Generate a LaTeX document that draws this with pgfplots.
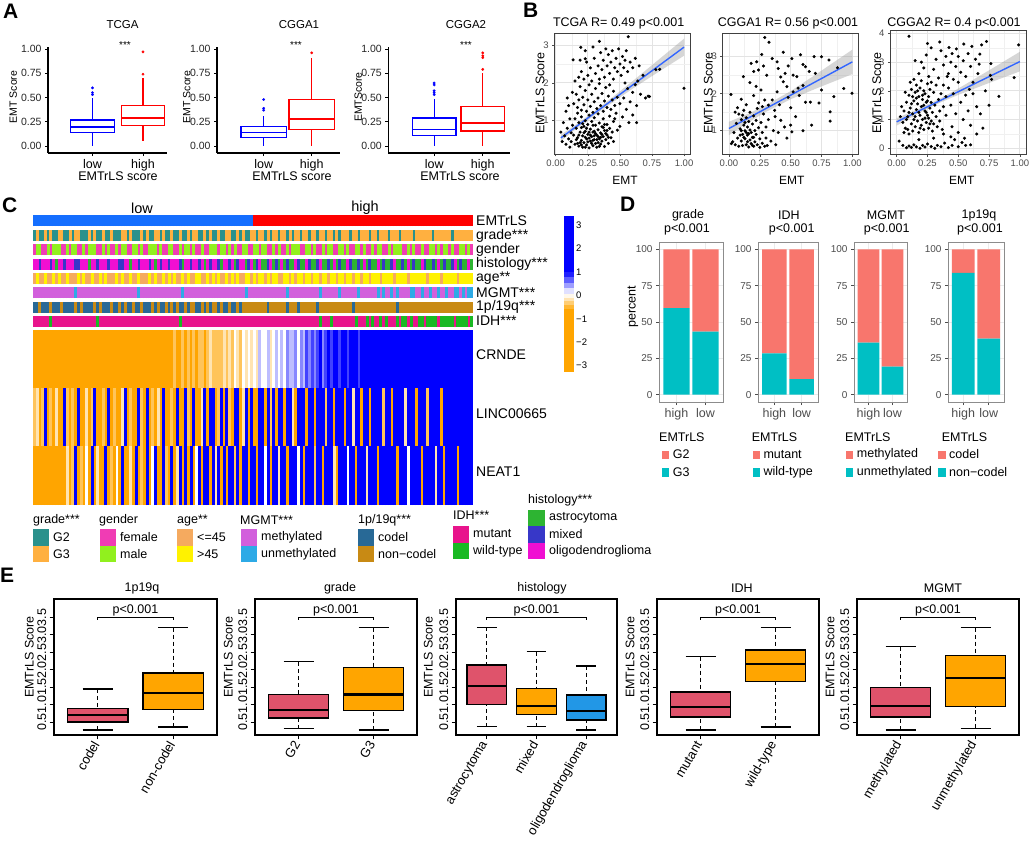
\documentclass[border=0pt]{standalone}
\usepackage{pgfplots}
\pgfplotsset{compat=1.18}
\usepackage{pgfplotstable}
\usepgfplotslibrary{statistics}
\usepackage{fontspec}
\setmainfont{Liberation Sans}

\newcommand{\fs}[1]{\fontsize{#1bp}{#1bp}\selectfont}

\definecolor{aBlue}{RGB}{0,0,255}
\definecolor{aRed}{RGB}{255,0,0}
\definecolor{bLine}{RGB}{51,102,255}
\definecolor{tickgray}{RGB}{77,77,77}
\definecolor{dSalmon}{RGB}{248,118,109}
\definecolor{dTeal}{RGB}{0,191,196}
\definecolor{eRed}{RGB}{223,83,107}
\definecolor{eOrange}{RGB}{255,165,0}
\definecolor{eBlue}{RGB}{34,151,230}
\definecolor{hOrange}{RGB}{255,165,0}
\definecolor{hLightOr}{RGB}{255,196,90}
\definecolor{hPale}{RGB}{255,228,178}
\definecolor{hLightBl}{RGB}{189,189,255}
\definecolor{hMidBl}{RGB}{135,135,255}
\definecolor{hDeepBl}{RGB}{66,66,255}
\definecolor{hBlue}{RGB}{0,0,255}
\definecolor{cG2}{RGB}{42,145,140}
\definecolor{cG3}{RGB}{255,176,64}
\definecolor{cFemale}{RGB}{240,60,180}
\definecolor{cMale}{RGB}{145,240,30}
\definecolor{cAstro}{RGB}{45,180,50}
\definecolor{cMixed}{RGB}{55,55,200}
\definecolor{cOligo}{RGB}{240,15,210}
\definecolor{cYoung}{RGB}{245,170,95}
\definecolor{cOld}{RGB}{255,242,0}
\definecolor{cMeth}{RGB}{210,95,220}
\definecolor{cUnmeth}{RGB}{45,170,230}
\definecolor{cCodel}{RGB}{40,105,150}
\definecolor{cNoncodel}{RGB}{200,138,20}
\definecolor{cMutant}{RGB}{232,20,140}
\definecolor{cWild}{RGB}{25,185,35}
\definecolor{cLow}{RGB}{20,110,255}
\definecolor{cHigh}{RGB}{255,0,0}

% rows: EMTrLS, grade, gender, histology, age, MGMT, 1p19q, IDH, CRNDE, LINC00665, NEAT1
\pgfplotstableread[header=false]{
0 0 0 0 0 0 0 0 0 0 0 0 0 0 0 0 0 0 0 0 0 0 0 0 0 0 0 0 0 0 0 0 0 0 0 0 0 0 0 0 0 0 0 0 0 0 0 0 0 0 0 0 0 0 0 0 0 0 0 0 0 0 0 0 0 0 0 0 0 0 0 0 0 0 0 0 0 0 0 0 1 1 1 1 1 1 1 1 1 1 1 1 1 1 1 1 1 1 1 1 1 1 1 1 1 1 1 1 1 1 1 1 1 1 1 1 1 1 1 1 1 1 1 1 1 1 1 1 1 1 1 1 1 1 1 1 1 1 1 1 1 1 1 1 1 1 1 1 1 1 1 1 1 1 1 1 1 1 1 1
0 1 0 0 1 0 1 0 0 1 1 0 0 1 0 1 1 0 0 0 1 0 1 0 0 1 0 0 1 0 0 0 1 1 0 1 0 0 0 1 0 1 0 0 1 1 0 1 0 0 1 0 0 1 0 0 1 0 1 1 0 0 1 0 1 0 0 1 0 0 1 1 0 0 1 0 1 0 0 1 1 0 1 1 0 1 0 1 1 0 1 1 0 1 0 1 1 0 1 1 0 1 1 0 1 1 0 1 1 0 1 0 1 1 1 0 1 1 0 1 1 1 0 1 1 0 1 1 1 0 1 1 1 0 1 1 1 1 0 1 1 1 1 1 1 0 1 1 1 1 1 1 0 1 1 1 1 1 1 1
0 1 1 0 0 1 0 1 1 1 0 0 1 0 1 1 0 0 1 0 1 1 1 0 0 1 0 1 0 0 1 0 1 1 0 0 1 1 0 1 0 0 1 1 1 0 1 0 0 1 1 0 0 1 0 1 1 0 1 0 0 1 0 0 1 1 1 0 1 1 0 1 0 1 0 0 1 1 0 0 1 1 0 1 1 0 0 1 0 1 0 0 1 0 1 1 1 0 0 1 1 0 1 0 0 1 0 1 1 0 0 1 1 0 1 0 0 1 1 0 1 0 0 1 0 1 1 0 0 1 0 1 1 1 0 0 1 0 1 0 0 1 0 0 1 1 0 1 0 1 1 0 1 0 0 1 1 0 1 0
2 2 1 2 2 2 1 2 0 2 2 1 2 2 2 1 1 2 2 2 0 2 2 1 2 2 2 1 2 2 2 1 1 2 2 0 2 2 1 2 2 2 1 2 0 2 1 2 2 1 2 2 2 1 0 2 2 1 2 2 1 2 0 2 1 2 2 1 0 2 2 1 2 0 1 2 2 0 1 2 0 1 2 0 0 1 2 0 1 0 2 0 1 0 0 2 1 0 0 2 1 0 0 1 2 0 0 1 0 2 0 1 0 0 2 1 0 0 1 0 2 0 1 0 0 2 0 1 0 0 1 2 0 0 1 0 2 0 1 0 0 2 1 0 0 1 0 2 0 1 0 0 1 2 0 1 0 0 2 0
0 1 0 0 1 0 0 1 0 1 0 0 1 0 0 0 1 0 1 0 0 1 0 0 1 0 1 0 0 0 1 0 1 0 0 1 0 0 1 0 0 0 1 0 1 0 0 1 0 1 0 1 0 0 1 0 1 0 0 1 1 0 0 1 0 1 0 1 0 0 1 0 1 0 1 0 0 1 1 0 1 0 1 1 0 1 0 1 1 0 0 1 1 0 1 0 1 1 0 1 1 0 1 1 0 1 1 0 1 1 0 1 1 0 1 1 0 1 1 0 1 1 0 1 1 1 0 1 1 1 1 0 1 1 1 1 0 1 1 1 1 1 1 0 1 1 1 1 0 1 1 1 1 1 0 1 1 1 1 1
0 0 0 0 0 0 0 0 0 0 0 0 0 0 0 1 0 0 0 0 0 0 0 0 0 0 0 0 0 0 0 0 0 0 0 0 0 0 1 0 0 0 0 0 0 0 0 0 0 0 0 0 0 0 1 0 0 0 0 0 0 0 0 0 0 0 0 0 0 0 0 0 0 0 0 0 0 1 0 0 0 0 0 0 0 0 0 0 0 0 0 0 1 0 0 0 0 0 0 0 0 0 0 0 1 0 0 0 0 0 0 1 0 0 0 0 0 0 1 0 0 0 0 0 0 1 0 1 0 0 1 0 1 0 0 0 0 1 1 0 0 1 0 0 1 0 0 1 0 0 1 0 0 1 1 0 1 0 1 1
0 0 1 0 0 0 1 0 0 0 1 0 0 0 0 1 0 1 0 0 0 0 1 0 1 0 0 0 1 0 0 1 0 1 0 0 1 0 0 1 0 0 0 1 0 1 0 0 1 0 1 0 1 0 0 1 0 1 1 0 0 1 0 1 0 1 1 0 1 0 0 1 0 0 1 0 1 1 1 1 1 1 1 1 1 0 1 1 1 1 1 1 0 1 1 1 0 1 1 1 1 1 1 0 1 1 1 1 1 1 1 1 1 1 1 1 0 1 1 1 1 1 1 1 1 1 1 1 1 1 1 1 0 1 1 1 1 1 1 1 1 1 1 1 1 1 1 1 1 1 1 1 1 1 1 1 1 1 1 1
0 0 0 0 0 0 1 0 0 0 0 0 0 0 0 0 0 0 0 0 0 0 0 1 0 0 0 0 0 0 0 0 0 0 0 0 0 0 0 0 0 0 0 0 0 0 0 0 0 0 0 0 0 1 0 0 0 0 0 0 0 0 0 0 0 0 0 0 0 0 0 0 0 0 0 0 0 0 0 0 0 0 0 0 0 0 0 0 0 0 0 0 0 0 0 0 0 0 0 0 0 0 0 0 1 0 0 0 1 0 0 0 0 0 0 0 0 1 0 0 0 1 0 1 0 0 1 0 1 0 0 0 1 0 1 1 0 1 0 0 1 1 0 1 1 1 1 0 1 1 1 1 1 0 1 1 1 1 0 1
0 0 0 0 0 0 0 0 0 0 0 0 0 0 0 0 0 0 0 0 0 0 0 0 0 0 0 0 0 0 0 0 0 0 0 0 0 0 0 0 0 0 0 0 0 0 0 0 0 0 0 1 0 0 1 0 2 0 1 0 1 2 0 1 3 1 2 2 1 3 2 3 2 4 3 2 4 3 4 3 4 3 5 4 4 5 3 4 5 4 5 4 6 5 5 6 4 6 5 7 6 7 6 7 8 6 7 8 7 8 8 7 8 8 7 8 8 8 7 8 8 8 8 8 8 8 8 8 8 8 8 8 8 8 8 8 8 8 8 8 8 8 8 8 8 8 8 8 8 8 8 8 8 8 8 8 8 8 8 8
2 3 0 1 8 0 2 0 3 0 0 8 1 0 2 0 7 0 0 3 0 2 8 0 0 1 0 8 0 2 0 0 3 8 0 1 0 0 7 2 0 8 0 1 0 3 0 8 0 0 2 0 8 0 0 7 1 0 8 0 0 3 8 0 7 8 0 2 8 0 8 1 0 7 8 0 3 8 0 8 0 0 8 7 0 8 2 8 0 8 8 0 8 8 3 0 8 7 8 0 8 8 0 8 8 8 2 8 8 0 8 8 8 0 8 8 3 8 8 0 8 8 0 8 8 8 8 2 8 8 0 8 8 8 8 3 8 8 8 0 8 8 8 2 8 8 8 8 0 8 8 8 8 8 8 8 8 8 8 8
0 0 0 0 0 0 0 0 0 0 0 0 3 0 1 8 0 2 0 4 0 8 0 3 0 0 7 0 2 0 4 0 8 0 0 3 0 8 0 2 0 7 0 4 8 0 0 8 2 0 8 0 3 8 0 7 0 8 0 4 8 0 8 7 0 8 3 8 0 8 0 8 8 2 8 0 8 7 0 8 8 0 8 8 4 8 0 8 8 3 8 8 0 8 7 8 4 8 0 8 8 8 2 8 8 0 8 8 8 3 0 8 8 8 4 8 8 0 8 8 8 3 8 8 8 0 8 8 8 8 8 8 0 8 8 8 4 8 8 8 8 0 8 8 8 8 3 8 8 0 8 8 8 8 0 8 8 8 8 8
}\rawC
\pgfplotstabletranspose{\heatC}{\rawC}

% one class of one track, drawn as a single comb path
% #1 table column, #2 lower bound, #3 upper bound, #4 colour
\newcommand{\cls}[4]{%
  \addplot[ycomb, draw=#4, line width=2.9bp, no marks]
    table[x expr=\coordindex, y expr={(\thisrowno{#1}>#2 && \thisrowno{#1}<#3) ? 1 : 0}] {\heatC};}

\pgfplotsset{
  every axis/.append style={/pgf/number format/assume math mode=true, enlargelimits=false},
  trkax/.style={anchor=north west, scale only axis, width=440bp,
    xmin=-0.5, xmax=159.5, ymin=0, ymax=1, hide axis, clip=false},
  panelA/.style={
    scale only axis, anchor=north west, height=106bp, ymin=-0.07, ymax=1.02,
    axis x line*=bottom, axis y line*=left,
    axis line style={-, black, line width=1.1bp},
    xtick={1,2}, xticklabels={low,high},
    ytick={0,0.25,0.5,0.75,1},
    yticklabel style={font=\fs{10.5}, text=black!85,
      /pgf/number format/fixed, /pgf/number format/fixed zerofill, /pgf/number format/precision=2},
    xticklabel style={font=\fs{12.5}},
    tick align=outside, major tick length=3bp, tick style={black, line width=0.8bp},
    clip=false,
    every axis plot/.append style={line width=1.3bp, mark=*, mark size=1.25bp,
      mark options={line width=0.3bp}, boxplot/draw direction=y,
      boxplot/whisker extend=0, boxplot/every box/.style={fill=white}},
  },
  panelB/.style={
    scale only axis, anchor=north west,
    axis line style={black!75, line width=0.8bp},
    grid=both, minor x tick num=1, minor y tick num=1,
    major grid style={black!11, line width=0.9bp},
    minor grid style={black!6, line width=0.5bp},
    tick align=outside, major tick length=2.5bp, minor tick length=0pt,
    tick style={black!70, line width=0.6bp}, tick pos=left,
    ticklabel style={font=\fs{9.5}, text=tickgray},
    xtick={0,0.25,0.5,0.75,1},
    xticklabel style={/pgf/number format/fixed, /pgf/number format/fixed zerofill, /pgf/number format/precision=2},
  },
  panelD/.style={
    scale only axis, anchor=north west, height=160bp,
    ybar stacked, bar width=0.9,
    ymin=-5, ymax=105, xmin=0.4, xmax=2.6,
    ytick={0,25,50,75,100}, xtick={1,2}, xticklabels={high,low},
    axis line style={black!45, line width=0.9bp},
    grid=major, major grid style={black!8, line width=0.6bp},
    tick align=outside, major tick length=3bp, tick style={black!70, line width=0.7bp}, tick pos=left,
    yticklabel style={font=\fs{10}, text=tickgray},
    xticklabel style={font=\fs{12.5}, text=tickgray},
  },
  panelE/.style={
    scale only axis, anchor=north west, height=136bp,
    ymin=0.13, ymax=4.03, ytick={0.5,1,1.5,2,2.5,3,3.5},
    axis line style={black, line width=1.5bp},
    tick align=outside, major tick length=4.3bp, tick style={black, line width=1bp}, tick pos=left,
    yticklabel style={rotate=90, anchor=south, font=\fs{12.5},
      /pgf/number format/fixed, /pgf/number format/fixed zerofill, /pgf/number format/precision=1},
    xticklabel style={rotate=60, anchor=east, font=\fs{13}},
    clip=false,
  },
  Ebox/.style={black, line width=1.3bp, boxplot/draw direction=y,
    boxplot/box extend=0.8, boxplot/whisker extend=0.4,
    boxplot/every box/.style={fill=#1},
    boxplot/every median/.style={line width=2.2bp},
    boxplot/draw/lower whisker/.code={
      \draw[dash pattern=on 4bp off 3bp]
        (boxplot box cs:\pgfplotsboxplotvalue{lower whisker},0.5) --
        (boxplot box cs:\pgfplotsboxplotvalue{lower quartile},0.5);
      \draw (boxplot whisker cs:\pgfplotsboxplotvalue{lower whisker},0) --
        (boxplot whisker cs:\pgfplotsboxplotvalue{lower whisker},1);
    },
    boxplot/draw/upper whisker/.code={
      \draw[dash pattern=on 4bp off 3bp]
        (boxplot box cs:\pgfplotsboxplotvalue{upper whisker},0.5) --
        (boxplot box cs:\pgfplotsboxplotvalue{upper quartile},0.5);
      \draw (boxplot whisker cs:\pgfplotsboxplotvalue{upper whisker},0) --
        (boxplot whisker cs:\pgfplotsboxplotvalue{upper whisker},1);
    },
  },
  Ebracket/.style={black, line width=1.1bp},
}

\begin{document}
\begin{tikzpicture}
\path[use as bounding box, fill=white] (0bp,0bp) rectangle (1031bp,-853bp);

% ================= A =================
\begin{axis}[panelA, at={(48bp,-47bp)}, width=119bp, xmin=0.12, xmax=2.475]
\addplot[aBlue, boxplot prepared={draw position=1, box extend=0.86,
  lower whisker=0, lower quartile=0.14, median=0.197, upper quartile=0.27, upper whisker=0.5}]
  table[row sep=\\, y index=0] {v\\ 0.53\\ 0.55\\ 0.6\\};
\addplot[aRed, boxplot prepared={draw position=2, box extend=0.86,
  lower whisker=0.054, lower quartile=0.21, median=0.29, upper quartile=0.42, upper whisker=0.70}]
  table[row sep=\\, y index=0] {v\\ 0.74\\ 0.97\\};
\end{axis}
\begin{axis}[panelA, at={(217bp,-47bp)}, width=123bp, xmin=0.027, xmax=2.59]
\addplot[aBlue, boxplot prepared={draw position=1, box extend=0.95,
  lower whisker=0, lower quartile=0.086, median=0.14, upper quartile=0.2, upper whisker=0.31}]
  table[row sep=\\, y index=0] {v\\ 0.37\\ 0.39\\ 0.48\\};
\addplot[aRed, boxplot prepared={draw position=2, box extend=0.95,
  lower whisker=0, lower quartile=0.17, median=0.28, upper quartile=0.48, upper whisker=0.91}]
  table[row sep=\\, y index=0] {v\\ 0.96\\};
\end{axis}
\begin{axis}[panelA, at={(388.3bp,-47bp)}, width=121.7bp, xmin=0.056, xmax=2.56]
\addplot[aBlue, boxplot prepared={draw position=1, box extend=0.9,
  lower whisker=0, lower quartile=0.11, median=0.17, upper quartile=0.29, upper whisker=0.49}]
  table[row sep=\\, y index=0] {v\\ 0.53\\ 0.55\\ 0.57\\ 0.63\\ 0.65\\};
\addplot[aRed, boxplot prepared={draw position=2, box extend=0.9,
  lower whisker=0, lower quartile=0.155, median=0.24, upper quartile=0.405, upper whisker=0.75}]
  table[row sep=\\, y index=0] {v\\ 0.79\\ 0.91\\ 0.93\\ 0.96\\};
\end{axis}

% ================= B =================
\begin{axis}[panelB, at={(554.7bp,-33bp)}, width=135.5bp, height=121bp,
  xmin=-0.008, xmax=1.048, ymin=0.12, ymax=3.32, ytick={1,2,3}]
\addplot[only marks, mark=*, mark size=1.35bp, black] coordinates {
(0.12,0.45)(0.14,0.62)(0.15,0.38)(0.16,0.8)(0.17,0.55)(0.18,0.33)(0.18,0.95)(0.19,0.7)(0.2,0.48)(0.2,1.1)
(0.21,0.6)(0.21,0.3)(0.22,0.85)(0.22,0.42)(0.23,0.72)(0.23,1.0)(0.24,0.52)(0.24,0.36)(0.25,0.9)(0.25,0.64)
(0.26,0.28)(0.26,1.15)(0.27,0.46)(0.27,0.78)(0.28,0.58)(0.28,0.98)(0.29,0.34)(0.29,0.7)(0.3,0.5)(0.3,1.08)
(0.31,0.88)(0.31,0.4)(0.32,0.62)(0.32,0.3)(0.33,0.76)(0.33,1.18)(0.34,0.52)(0.34,0.94)(0.35,0.38)(0.35,0.68)
(0.36,0.84)(0.36,0.46)(0.37,1.05)(0.37,0.58)(0.38,0.32)(0.38,0.74)(0.39,0.5)(0.4,0.9)(0.4,0.62)(0.41,0.4)
(0.42,0.8)(0.42,1.12)(0.43,0.55)(0.44,0.7)(0.45,0.45)(0.45,0.98)(0.13,0.88)(0.15,1.05)(0.17,1.2)(0.19,0.42)
(0.21,0.92)(0.23,0.56)(0.25,0.44)(0.27,0.62)(0.29,0.88)(0.31,0.66)(0.33,0.42)(0.35,0.56)(0.37,0.82)(0.39,0.66)
(0.41,0.56)(0.16,0.5)(0.18,0.62)(0.2,0.36)(0.22,0.68)(0.24,0.8)(0.26,0.54)(0.28,0.4)(0.3,0.72)(0.32,0.5)
(0.34,0.32)(0.36,0.64)(0.38,0.9)(0.2,0.82)(0.26,0.7)(0.3,0.6)(0.17,0.4)(0.23,0.3)(0.29,0.48)(0.33,0.58)(0.4,0.74)
(0.04,0.7)(0.05,0.45)(0.06,0.95)(0.07,0.6)(0.08,0.38)(0.08,1.25)(0.09,0.8)(0.1,0.52)(0.1,1.4)(0.11,1.05)
(0.12,0.68)(0.09,1.6)(0.11,0.3)
(0.14,1.45)(0.16,1.7)(0.17,1.35)(0.18,1.55)(0.19,1.9)(0.2,1.28)(0.21,1.62)(0.22,1.42)(0.23,1.8)(0.24,1.25)
(0.25,1.55)(0.26,1.95)(0.27,1.38)(0.28,1.7)(0.29,1.22)(0.3,1.5)(0.31,1.85)(0.32,1.32)(0.33,1.6)(0.34,1.98)
(0.35,1.4)(0.36,1.72)(0.37,1.25)(0.38,1.52)(0.39,1.88)(0.4,1.35)(0.41,1.65)(0.42,1.95)(0.43,1.3)(0.44,1.55)
(0.45,1.78)(0.46,1.4)(0.47,1.2)(0.48,1.62)(0.5,1.45)(0.13,1.75)(0.15,2.05)(0.18,2.15)
(0.2,2.3)(0.22,2.1)(0.24,2.55)(0.25,2.2)(0.27,2.4)(0.28,2.05)(0.3,2.65)(0.31,2.25)(0.33,2.45)(0.34,2.1)
(0.35,2.8)(0.36,2.35)(0.37,2.6)(0.38,2.15)(0.39,2.9)(0.4,2.45)(0.41,2.75)(0.42,2.25)(0.43,2.55)(0.44,2.85)
(0.45,2.1)(0.46,2.4)(0.47,2.65)(0.48,2.3)(0.49,2.9)(0.5,2.5)(0.51,2.2)(0.52,2.7)(0.53,2.4)(0.54,2.6)
(0.55,2.85)(0.56,2.3)(0.58,2.55)(0.6,2.4)(0.62,2.65)(0.65,2.45)(0.19,2.6)(0.23,2.85)(0.29,2.95)
(0.5,0.85)(0.52,1.1)(0.53,1.6)(0.55,1.3)(0.56,1.85)(0.57,0.95)(0.58,1.5)(0.6,1.15)(0.6,1.75)(0.62,1.95)
(0.63,1.4)(0.64,2.05)(0.66,1.7)(0.68,2.2)(0.48,0.75)(0.46,1.05)(0.54,2.0)(0.7,1.6)(0.72,1.65)(0.63,0.95)
(0.34,3.1)(0.565,3.22)(0.195,2.94)(1.0,1.86)(0.135,2.61)(0.23,2.64)(0.81,2.36)(0.78,2.35)(0.73,1.64)
};
\addplot[fill=black!40, fill opacity=0.4, draw=none] coordinates {
(0.04,0.46)(0.15,0.76)(0.28,1.09)(0.45,1.5)(0.6,1.85)(0.8,2.29)(1.0,2.72)
(1.0,3.17)(0.8,2.61)(0.6,2.05)(0.45,1.64)(0.28,1.2)(0.15,0.88)(0.04,0.63)};
\addplot[bLine, line width=1.4bp] coordinates {(0.04,0.546) (1.0,2.946)};
\end{axis}
\begin{axis}[panelB, at={(722.8bp,-33bp)}, width=135.7bp, height=121bp,
  xmin=-0.05, xmax=1.05, ymin=0.37, ymax=3.64, ytick={1,2,3}]
\addplot[only marks, mark=*, mark size=1.35bp, black] coordinates {
(0.03,0.7)(0.04,0.95)(0.05,0.62)(0.06,1.2)(0.07,0.8)(0.08,1.45)(0.08,0.58)(0.09,1.05)(0.1,0.72)(0.1,1.3)
(0.11,0.9)(0.11,0.6)(0.12,1.15)(0.12,1.55)(0.13,0.78)(0.13,1.0)(0.14,0.62)(0.14,1.35)(0.15,0.88)(0.15,1.1)
(0.16,0.56)(0.16,1.25)(0.17,0.75)(0.17,1.5)(0.18,0.95)(0.18,0.65)(0.19,1.18)(0.19,0.82)(0.2,1.4)(0.2,0.58)
(0.21,1.0)(0.21,0.7)(0.22,1.28)(0.22,0.9)(0.23,0.62)(0.23,1.6)(0.24,1.08)(0.25,0.78)(0.25,0.55)(0.26,1.22)
(0.27,0.95)(0.27,0.66)(0.28,1.45)(0.29,0.58)(0.3,1.1)(0.3,0.8)(0.31,0.6)(0.32,1.3)(0.09,0.88)(0.11,1.42)
(0.13,1.22)(0.15,0.7)(0.17,1.02)(0.19,0.6)(0.05,1.5)(0.07,1.62)(0.1,1.0)(0.12,0.82)(0.14,0.95)(0.16,0.92)
(0.2,0.82)(0.02,0.65)(0.34,0.72)(0.36,1.0)(0.38,0.62)
(0.016,1.98)(0.1,1.85)(0.117,2.46)(0.14,1.7)(0.17,2.3)(0.2,1.95)(0.22,2.2)(0.24,1.75)(0.26,2.1)(0.29,1.83)
(0.27,1.65)(0.32,1.69)(0.35,1.83)(0.37,1.55)(0.39,2.05)(0.41,1.7)(0.44,2.32)(0.47,2.19)(0.48,1.9)(0.5,1.62)
(0.52,2.05)(0.374,1.38)(0.42,1.28)(0.45,1.1)(0.4,0.95)(0.47,0.8)(0.5,1.15)
(0.18,2.82)(0.225,2.86)(0.24,2.64)(0.29,3.52)(0.325,3.39)(0.265,3.06)(0.306,2.5)(0.39,2.86)(0.4,2.68)(0.44,3.12)
(0.455,2.55)(0.51,2.95)(0.52,2.5)(0.55,2.46)(0.6,2.79)(0.62,2.73)(0.6,2.22)(0.56,2.15)(0.69,3.0)(0.75,3.0)
(0.81,2.91)(0.2,2.6)(0.28,2.75)(0.35,2.95)(0.42,2.45)(0.48,2.75)(0.58,3.05)(0.65,2.6)(0.7,2.55)
(0.997,2.01)(0.93,2.14)(0.85,1.92)(0.82,1.51)(0.82,1.26)(0.75,2.1)(0.67,1.15)(0.62,1.77)(0.66,1.77)(0.51,0.97)
(0.54,1.38)(0.73,1.75)(0.88,2.7)(0.57,1.95)(0.6,1.0)
};
\addplot[fill=black!40, fill opacity=0.4, draw=none] coordinates {
(0,0.88)(0.15,1.21)(0.3,1.51)(0.5,1.85)(0.7,2.13)(1.0,2.53)
(1.0,3.19)(0.7,2.51)(0.5,2.07)(0.3,1.69)(0.15,1.45)(0,1.24)};
\addplot[bLine, line width=1.4bp] coordinates {(0,1.06) (1.0,2.86)};
\end{axis}
\begin{axis}[panelB, at={(890.5bp,-30bp)}, width=135.5bp, height=124bp,
  xmin=-0.05, xmax=1.05, ymin=-0.2, ymax=4.12, ytick={0,1,2,3,4}]
\addplot[only marks, mark=*, mark size=1.35bp, black] coordinates {
(0.05,0.9)(0.06,1.3)(0.07,0.7)(0.08,1.6)(0.09,1.1)(0.1,0.5)(0.1,1.85)(0.11,1.4)(0.12,0.85)(0.12,2.05)
(0.13,1.2)(0.13,0.6)(0.14,1.65)(0.14,1.0)(0.15,1.95)(0.15,0.75)(0.16,1.35)(0.16,2.2)(0.17,0.95)(0.17,1.55)
(0.18,0.55)(0.18,1.8)(0.19,1.15)(0.19,2.1)(0.2,0.8)(0.2,1.45)(0.21,1.7)(0.21,1.0)(0.22,2.0)(0.22,0.65)
(0.23,1.3)(0.23,1.9)(0.24,0.9)(0.24,1.6)(0.25,2.25)(0.25,1.15)(0.26,0.7)(0.26,1.8)(0.27,1.4)(0.27,2.05)
(0.28,0.95)(0.28,1.6)(0.29,0.6)(0.29,1.25)(0.3,1.95)(0.3,0.85)(0.31,1.5)(0.32,1.1)(0.32,2.2)(0.33,0.75)
(0.34,1.7)(0.35,1.3)(0.35,0.95)(0.08,1.0)(0.09,0.65)(0.11,2.3)(0.12,1.55)(0.14,2.4)(0.16,1.75)(0.18,1.25)
(0.2,2.35)(0.22,1.5)(0.24,1.25)(0.26,1.05)(0.28,2.3)(0.19,0.7)(0.15,1.1)(0.17,2.0)(0.21,1.85)(0.23,1.05)
(0.25,1.65)(0.27,0.85)(0.13,1.8)(0.1,1.25)(0.07,1.95)(0.04,1.45)(0.03,1.1)(0.06,0.55)(0.36,1.9)(0.38,1.45)
(0.4,1.15)(0.37,0.65)
(0.02,0.25)(0.05,0.1)(0.08,0.02)(0.1,0.08)(0.12,0.03)(0.14,0.12)(0.16,0.05)(0.19,0.0)(0.21,0.1)(0.23,0.04)
(0.25,0.15)(0.28,0.06)(0.31,0.0)(0.33,0.1)(0.36,0.05)(0.39,0.18)(0.42,0.02)(0.45,0.1)(0.47,0.3)(0.5,0.05)
(0.53,0.2)(0.56,0.1)(0.6,0.12)(0.18,0.3)(0.3,0.35)(0.44,0.4)(0.38,0.5)
(0.1,3.9)(0.18,2.6)(0.2,3.0)(0.22,2.8)(0.24,3.25)(0.26,2.5)(0.28,3.5)(0.3,2.75)(0.32,3.1)(0.34,2.45)
(0.36,3.4)(0.38,2.9)(0.4,3.2)(0.42,2.6)(0.425,3.51)(0.44,3.0)(0.46,2.4)(0.485,3.46)(0.48,2.85)(0.5,3.2)
(0.52,2.65)(0.545,3.63)(0.54,3.05)(0.56,2.5)(0.58,3.3)(0.61,3.55)(0.69,3.6)(0.73,3.72)(0.6,2.85)(0.62,2.3)
(0.64,3.1)(0.675,3.28)(0.67,2.93)(0.765,2.95)(0.77,2.4)(0.76,2.54)(0.99,3.6)(0.954,2.46)(0.83,1.81)(0.15,3.05)
(0.25,3.65)(0.35,3.7)(0.45,3.3)
(0.38,2.2)(0.4,1.8)(0.42,2.1)(0.44,1.5)(0.46,1.9)(0.48,1.2)(0.5,2.3)(0.52,1.6)(0.54,1.0)(0.56,1.85)
(0.58,1.3)(0.6,0.8)(0.62,1.9)(0.65,1.45)(0.68,1.2)(0.7,0.7)(0.72,2.0)(0.45,0.75)(0.5,0.55)(0.55,0.35)
(0.65,0.5)(0.75,1.5)(0.41,2.5)(0.66,2.6)(0.59,2.05)
};
\addplot[fill=black!40, fill opacity=0.4, draw=none] coordinates {
(0,0.79)(0.2,1.27)(0.35,1.585)(0.5,1.86)(0.75,2.275)(1.0,2.68)
(1.0,3.36)(0.75,2.715)(0.5,2.08)(0.35,1.725)(0.2,1.41)(0,1.05)};
\addplot[bLine, line width=1.4bp] coordinates {(0,0.92) (1.0,3.02)};
\end{axis}

% ================= C: annotation tracks and heatmap =================
\begin{axis}[trkax, at={(33bp,-215bp)}, height=11bp]
\cls{1}{-0.5}{0.5}{cLow} \cls{1}{0.5}{1.5}{cHigh}
\end{axis}
\begin{axis}[trkax, at={(33bp,-230bp)}, height=11bp]
\cls{2}{-0.5}{0.5}{cG2} \cls{2}{0.5}{1.5}{cG3}
\end{axis}
\begin{axis}[trkax, at={(33bp,-244bp)}, height=11bp]
\cls{3}{-0.5}{0.5}{cFemale} \cls{3}{0.5}{1.5}{cMale}
\end{axis}
\begin{axis}[trkax, at={(33bp,-258.5bp)}, height=11bp]
\cls{4}{-0.5}{0.5}{cAstro} \cls{4}{0.5}{1.5}{cMixed} \cls{4}{1.5}{2.5}{cOligo}
\end{axis}
\begin{axis}[trkax, at={(33bp,-273bp)}, height=11bp]
\cls{5}{-0.5}{0.5}{cYoung} \cls{5}{0.5}{1.5}{cOld}
\end{axis}
\begin{axis}[trkax, at={(33bp,-287bp)}, height=11bp]
\cls{6}{-0.5}{0.5}{cMeth} \cls{6}{0.5}{1.5}{cUnmeth}
\end{axis}
\begin{axis}[trkax, at={(33bp,-301.5bp)}, height=11bp]
\cls{7}{-0.5}{0.5}{cCodel} \cls{7}{0.5}{1.5}{cNoncodel}
\end{axis}
\begin{axis}[trkax, at={(33bp,-315.5bp)}, height=11bp]
\cls{8}{-0.5}{0.5}{cMutant} \cls{8}{0.5}{1.5}{cWild}
\end{axis}
\begin{axis}[trkax, at={(33bp,-330bp)}, height=58bp]
\cls{9}{-0.5}{0.5}{hOrange} \cls{9}{0.5}{2.5}{hLightOr} \cls{9}{2.5}{3.5}{hPale}
\cls{9}{4.5}{5.5}{hLightBl} \cls{9}{5.5}{6.5}{hMidBl} \cls{9}{6.5}{7.5}{hDeepBl} \cls{9}{7.5}{8.5}{hBlue}
\end{axis}
\begin{axis}[trkax, at={(33bp,-388bp)}, height=58bp]
\cls{10}{-0.5}{0.5}{hOrange} \cls{10}{0.5}{2.5}{hLightOr} \cls{10}{2.5}{3.5}{hPale}
\cls{10}{6.5}{8.5}{hBlue}
\end{axis}
\begin{axis}[trkax, at={(33bp,-446bp)}, height=59bp]
\cls{11}{-0.5}{0.5}{hOrange} \cls{11}{0.5}{2.5}{hLightOr} \cls{11}{2.5}{3.5}{hPale}
\cls{11}{6.5}{8.5}{hBlue}
\end{axis}
% colour key
\begin{axis}[at={(564bp,-216bp)}, anchor=north west, scale only axis, width=10bp, height=156bp,
  xmin=0, xmax=1, ymin=-3.27, ymax=3.38, axis line style={draw=none},
  xtick=\empty, ytick={-3,-2,-1,0,1,2,3}, yticklabels={−3,−2,−1,0,1,2,3},
  yticklabel pos=right, major tick length=0pt, tick style={draw=none},
  yticklabel style={font=\fs{9.5}, inner sep=2bp}]
\addplot[fill=hOrange, draw=none] coordinates {(0,-3.27) (1,-3.27) (1,-0.6) (0,-0.6)};
\addplot[fill=hOrange!80!white, draw=none] coordinates {(0,-0.6) (1,-0.6) (1,-0.43) (0,-0.43)};
\addplot[fill=hOrange!55!white, draw=none] coordinates {(0,-0.43) (1,-0.43) (1,-0.26) (0,-0.26)};
\addplot[fill=hOrange!30!white, draw=none] coordinates {(0,-0.26) (1,-0.26) (1,-0.1) (0,-0.1)};
\addplot[fill=hOrange!8!white, draw=none] coordinates {(0,-0.1) (1,-0.1) (1,0.05) (0,0.05)};
\addplot[fill=hBlue!12!white, draw=none] coordinates {(0,0.05) (1,0.05) (1,0.29) (0,0.29)};
\addplot[fill=hBlue!38!white, draw=none] coordinates {(0,0.29) (1,0.29) (1,0.53) (0,0.53)};
\addplot[fill=hBlue!63!white, draw=none] coordinates {(0,0.53) (1,0.53) (1,0.77) (0,0.77)};
\addplot[fill=hBlue!88!white, draw=none] coordinates {(0,0.77) (1,0.77) (1,1.0) (0,1.0)};
\addplot[fill=hBlue, draw=none] coordinates {(0,1) (1,1) (1,3.38) (0,3.38)};
\end{axis}

% ================= D =================
\begin{axis}[panelD, at={(659bp,-242bp)}, width=64bp]
\addplot[fill=dTeal, draw=none] coordinates {(1,59.6) (2,43.4)};
\addplot[fill=dSalmon, draw=none] coordinates {(1,40.4) (2,56.6)};
\end{axis}
\begin{axis}[panelD, at={(758bp,-242bp)}, width=60bp]
\addplot[fill=dTeal, draw=none] coordinates {(1,28.5) (2,10.7)};
\addplot[fill=dSalmon, draw=none] coordinates {(1,71.5) (2,89.3)};
\end{axis}
\begin{axis}[panelD, at={(854bp,-242bp)}, width=53bp]
\addplot[fill=dTeal, draw=none] coordinates {(1,35.8) (2,19.4)};
\addplot[fill=dSalmon, draw=none] coordinates {(1,64.2) (2,80.6)};
\end{axis}
\begin{axis}[panelD, at={(948bp,-242bp)}, width=56bp]
\addplot[fill=dTeal, draw=none] coordinates {(1,83.7) (2,38.6)};
\addplot[fill=dSalmon, draw=none] coordinates {(1,16.3) (2,61.4)};
\end{axis}

% ================= E =================
\begin{axis}[panelE, at={(54bp,-599bp)}, width=163bp, xmin=0.42, xmax=2.58,
  xtick={1,2}, xticklabels={codel,non-codel}]
\addplot[Ebox=eRed, boxplot prepared={draw position=1, lower whisker=0.27, lower quartile=0.5,
  median=0.70, upper quartile=0.89, upper whisker=1.45}] coordinates {};
\addplot[Ebox=eOrange, boxplot prepared={draw position=2, lower whisker=0.36, lower quartile=0.87,
  median=1.34, upper quartile=1.91, upper whisker=3.21}] coordinates {};
\addplot[Ebracket] coordinates {(1,3.43) (1,3.5) (2,3.5) (2,3.43)};
\node[anchor=south, inner sep=1.5bp, font=\fs{12.5}] at (axis cs:1.5,3.5) {p<0.001};
\end{axis}
\begin{axis}[panelE, at={(255bp,-599bp)}, width=162bp, xmin=0.42, xmax=2.58,
  xtick={1,2}, xticklabels={G2,G3}]
\addplot[Ebox=eRed, boxplot prepared={draw position=1, lower whisker=0.31, lower quartile=0.62,
  median=0.85, upper quartile=1.30, upper whisker=2.23}] coordinates {};
\addplot[Ebox=eOrange, boxplot prepared={draw position=2, lower whisker=0.27, lower quartile=0.83,
  median=1.29, upper quartile=2.07, upper whisker=3.21}] coordinates {};
\addplot[Ebracket] coordinates {(1,3.43) (1,3.5) (2,3.5) (2,3.43)};
\node[anchor=south, inner sep=1.5bp, font=\fs{12.5}] at (axis cs:1.5,3.5) {p<0.001};
\end{axis}
\begin{axis}[panelE, at={(456bp,-599bp)}, width=161bp, xmin=0.38, xmax=3.62,
  xtick={1,2,3}, xticklabels={astrocytoma,mixed,oligodendroglioma}]
\addplot[Ebox=eRed, boxplot prepared={draw position=1, lower whisker=0.37, lower quartile=1.01,
  median=1.53, upper quartile=2.14, upper whisker=3.22}] coordinates {};
\addplot[Ebox=eOrange, boxplot prepared={draw position=2, lower whisker=0.37, lower quartile=0.72,
  median=0.97, upper quartile=1.47, upper whisker=2.52}] coordinates {};
\addplot[Ebox=eBlue, boxplot prepared={draw position=3, lower whisker=0.27, lower quartile=0.56,
  median=0.82, upper quartile=1.28, upper whisker=2.11}] coordinates {};
\addplot[Ebracket] coordinates {(1,3.43) (1,3.5) (3,3.5) (3,3.43)};
\node[anchor=south, inner sep=1.5bp, font=\fs{12.5}] at (axis cs:2,3.5) {p<0.001};
\end{axis}
\begin{axis}[panelE, at={(657bp,-599bp)}, width=162bp, xmin=0.42, xmax=2.58,
  xtick={1,2}, xticklabels={mutant,wild-type}]
\addplot[Ebox=eRed, boxplot prepared={draw position=1, lower whisker=0.27, lower quartile=0.65,
  median=0.94, upper quartile=1.36, upper whisker=2.38}] coordinates {};
\addplot[Ebox=eOrange, boxplot prepared={draw position=2, lower whisker=0.36, lower quartile=1.67,
  median=2.17, upper quartile=2.57, upper whisker=3.21}] coordinates {};
\addplot[Ebracket] coordinates {(1,3.43) (1,3.5) (2,3.5) (2,3.43)};
\node[anchor=south, inner sep=1.5bp, font=\fs{12.5}] at (axis cs:1.5,3.5) {p<0.001};
\end{axis}
\begin{axis}[panelE, at={(857bp,-599bp)}, width=162bp, xmin=0.42, xmax=2.58,
  xtick={1,2}, xticklabels={methylated,unmethylated}]
\addplot[Ebox=eRed, boxplot prepared={draw position=1, lower whisker=0.27, lower quartile=0.65,
  median=0.96, upper quartile=1.49, upper whisker=2.66}] coordinates {};
\addplot[Ebox=eOrange, boxplot prepared={draw position=2, lower whisker=0.32, lower quartile=0.94,
  median=1.76, upper quartile=2.41, upper whisker=3.21}] coordinates {};
\addplot[Ebracket] coordinates {(1,3.43) (1,3.5) (2,3.5) (2,3.43)};
\node[anchor=south, inner sep=1.5bp, font=\fs{12.5}] at (axis cs:1.5,3.5) {p<0.001};
\end{axis}

% ================= texts and legend keys (1 unit = 1 pixel) =================
\begin{scope}[x=1bp, y=1bp, every node/.style={inner sep=0}]
\node[anchor=north west, font=\fs{21}\bfseries] at (3,-4) {A};
\node[anchor=north west, font=\fs{21}\bfseries] at (523,-3) {B};
\node[anchor=north west, font=\fs{21}\bfseries] at (2,-198) {C};
\node[anchor=north west, font=\fs{21}\bfseries] at (620,-197) {D};
\node[anchor=north west, font=\fs{21}\bfseries] at (0,-568) {E};
% A
\node[font=\fs{11.5}] at (122.5,-25) {TCGA};
\node[font=\fs{11.5}] at (299,-25) {CGGA1};
\node[font=\fs{11.5}] at (466,-25) {CGGA2};
\node[font=\fs{10}] at (125,-45) {***};
\node[font=\fs{10}] at (296,-45) {***};
\node[font=\fs{10}] at (466,-45) {***};
\node[font=\fs{12.5}] at (118,-176) {EMTrLS score};
\node[font=\fs{12.5}] at (292,-176) {EMTrLS score};
\node[font=\fs{12.5}] at (460,-176) {EMTrLS score};
\node[font=\fs{10.5}, rotate=90] at (13.3,-97) {EMT Score};
\node[font=\fs{10.5}, rotate=90] at (186.7,-97) {EMT Score};
\node[font=\fs{10.5}, rotate=90] at (358.3,-97) {EMTScore};
% B
\node[font=\fs{12.5}] at (618.7,-23.3) {TCGA R= 0.49 p<0.001};
\node[font=\fs{12.5}] at (788,-23.3) {CGGA1 R= 0.56 p<0.001};
\node[font=\fs{12.5}] at (954,-23.3) {CGGA2 R= 0.4 p<0.001};
\node[font=\fs{12}] at (625,-180) {EMT};
\node[font=\fs{12}] at (791.7,-180) {EMT};
\node[font=\fs{12}] at (961.7,-180) {EMT};
\node[font=\fs{12.5}, rotate=90] at (540,-93) {EMTrLS Score};
\node[font=\fs{12.5}, rotate=90] at (708.3,-93) {EMTrLS Score};
\node[font=\fs{12.5}, rotate=90] at (876.7,-93) {EMTrLS Score};
% C
\node[font=\fs{14.5}] at (142,-208) {low};
\node[font=\fs{14.5}] at (365,-208) {high};
\begin{scope}[every node/.style={inner sep=0, anchor=west, font=\fs{14}}]
\node at (476,-221) {EMTrLS};
\node at (476,-235.5) {grade***};
\node at (476,-249.5) {gender};
\node at (476,-264) {histology***};
\node at (476,-278.5) {age**};
\node at (476,-292.5) {MGMT***};
\node at (476,-307) {1p/19q***};
\node at (476,-321) {IDH***};
\node at (476,-355) {CRNDE};
\node at (476,-414) {LINC00665};
\node at (476,-472) {NEAT1};
\end{scope}
\begin{scope}[every node/.style={inner sep=0, anchor=west, font=\fs{12.5}}]
\node at (33,-520) {grade***};
\fill[cG2] (33,-529) rectangle (49,-545.5); \fill[cG3] (33,-545.5) rectangle (49,-562);
\node at (53,-537) {G2}; \node at (53,-554) {G3};
\node at (99,-520) {gender};
\fill[cFemale] (100,-529) rectangle (116,-545.5); \fill[cMale] (100,-545.5) rectangle (116,-562);
\node at (120,-537) {female}; \node at (120,-554) {male};
\node at (177,-520) {age**};
\fill[cYoung] (177,-529) rectangle (193,-545.5); \fill[cOld] (177,-545.5) rectangle (193,-562);
\node at (197,-537) {<=45}; \node at (197,-554) {>45};
\node at (240,-520) {MGMT***};
\fill[cMeth] (241,-529) rectangle (257,-545.5); \fill[cUnmeth] (241,-545.5) rectangle (257,-562);
\node at (261,-537) {methylated}; \node at (261,-554) {unmethylated};
\node at (358,-520) {1p/19q***};
\fill[cCodel] (358,-529) rectangle (374,-545.5); \fill[cNoncodel] (358,-545.5) rectangle (374,-562);
\node at (378,-537) {codel}; \node at (378,-554) {non−codel};
\node at (453,-515) {IDH***};
\fill[cMutant] (453,-526) rectangle (469,-542.5); \fill[cWild] (453,-542.5) rectangle (469,-558.5);
\node at (473,-534) {mutant}; \node at (473,-551) {wild-type};
\node at (528,-500) {histology***};
\fill[cAstro] (528,-510) rectangle (545,-526); \fill[cMixed] (528,-526) rectangle (545,-542.5);
\fill[cOligo] (528,-542.5) rectangle (545,-559);
\node at (549,-518) {astrocytoma}; \node at (549,-534) {mixed}; \node at (549,-551) {oligodendroglioma};
% D legends
\node at (659,-437) {EMTrLS};
\fill[dSalmon] (661.7,-450.7) rectangle (669.3,-459.3); \fill[dTeal] (661.7,-468) rectangle (669.3,-476.7);
\node at (672.7,-454.5) {G2}; \node at (672.7,-472) {G3};
\node at (751.7,-437) {EMTrLS};
\fill[dSalmon] (752.7,-450.7) rectangle (760,-459.3); \fill[dTeal] (752.7,-468) rectangle (760,-476.7);
\node at (763.3,-454.5) {mutant}; \node at (763.3,-472) {wild-type};
\node at (845,-437) {EMTrLS};
\fill[dSalmon] (846,-450.7) rectangle (853.3,-459.3); \fill[dTeal] (846,-468) rectangle (853.3,-476.7);
\node at (856.7,-454.5) {methylated}; \node at (856.7,-472) {unmethylated};
\node at (941.7,-437) {EMTrLS};
\fill[dSalmon] (938.3,-450.7) rectangle (945.7,-459.3); \fill[dTeal] (938.3,-468) rectangle (945.7,-476.7);
\node at (949,-454.5) {codel}; \node at (949,-472) {non−codel};
\end{scope}
% D titles
\begin{scope}[every node/.style={inner sep=0, font=\fs{12.5}}]
\node at (688,-215) {grade}; \node at (687,-229) {p<0.001};
\node at (789,-215) {IDH}; \node at (791.7,-229) {p<0.001};
\node at (886,-215) {MGMT}; \node at (886.7,-229) {p<0.001};
\node at (979,-215) {1p19q}; \node at (980,-229) {p<0.001};
\node[rotate=90] at (633,-307) {percent};
% E
\node at (142,-588) {1p19q};
\node at (340,-588) {grade};
\node at (542,-588) {histology};
\node at (742,-588) {IDH};
\node at (943,-588) {MGMT};
\node[rotate=90] at (29.3,-657) {EMTrLS Score};
\node[rotate=90] at (228.3,-657) {EMTrLS Score};
\node[rotate=90] at (428.3,-657) {EMTrLS Score};
\node[rotate=90] at (630,-657) {EMTrLS Score};
\node[rotate=90] at (830,-657) {EMTrLS Score};
\end{scope}
\end{scope}
\end{tikzpicture}
\end{document}
